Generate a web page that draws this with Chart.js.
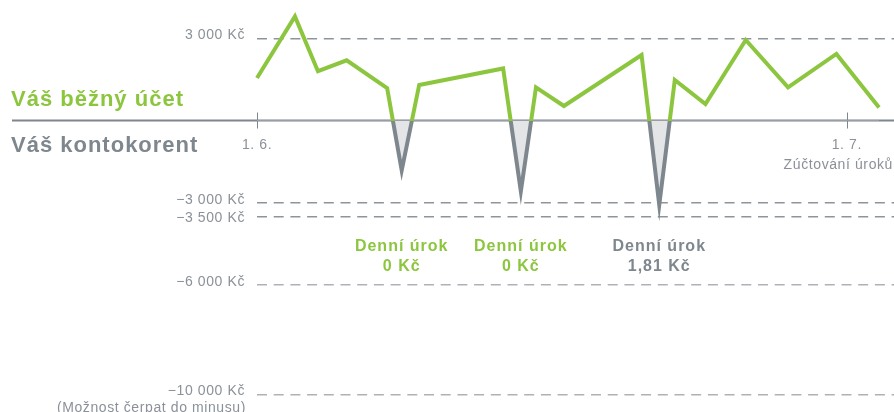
<!DOCTYPE html>
<html lang="cs">
<head>
<meta charset="UTF-8" />
<title>Běžný účet a kontokorent</title>
<script src="https://cdn.jsdelivr.net/npm/chart.js"></script>
<style>
    body {
        margin: 0;
        background: #fff;
        font-family: 'Liberation Sans', Arial, sans-serif;
    }
</style>
</head>
<body>
    <canvas id="graf" width="894" height="412"></canvas>

<script>
    // Dny od 1. 6. a zůstatek v Kč
    const dny = [0, 1.93, 3.1, 4.56, 6.62, 7.36, 8.25, 12.52, 13.42, 14.19, 15.61, 19.56, 20.46, 21.25, 22.81, 24.86, 27.01, 29.47, 31.64];
    const zustatek = [1550, 3800, 1800, 2200, 1180, -1820, 1300, 1900, -2580, 1210, 530, 2390, -3080, 1480, 600, 2940, 1210, 2430, 480];

    const yTicks = [3000, -3000, -3500, -6000, -10000];
    const xTicks = [0, 30];
    const xPopisky = ['1. 6.', '1. 7.'];
    const poznamkaZuctovani = 'Zúčtování úroků';
    const poznamkaLimit = '(Možnost čerpat do minusu)';

    // Denní úrok u jednotlivých propadů
    const urokDny = [7.36, 13.42, 20.46];
    const urokCastky = ['0 Kč', '0 Kč', '1,81 Kč'];
    const urokUctovan = [false, false, true];

    const zelena = '#8cc63f';
    const seda = '#7e868e';
    const sedaText = '#8b9198';
    const sedaVypln = '#e4e5e7';
    const pismo = '"Liberation Sans", Arial, sans-serif';

    function formatKc(v) {
        const s = Math.abs(v).toString().replace(/\B(?=(\d{3})+(?!\d))/g, ' ');
        return (v < 0 ? '\u2212' : '') + s + ' Kč';
    }

    function barvaCary(ctx) {
        const chart = ctx.chart;
        if (!chart.chartArea) return zelena;
        const y0 = chart.scales.y.getPixelForValue(0);
        const g = chart.ctx.createLinearGradient(0, 0, 0, chart.height);
        const stop = Math.min(Math.max(y0 / chart.height, 0), 1);
        g.addColorStop(0, zelena);
        g.addColorStop(stop, zelena);
        g.addColorStop(stop, seda);
        g.addColorStop(1, seda);
        return g;
    }

    const popisky = {
        id: 'popisky',
        beforeDatasetsDraw(chart) {
            const c = chart.ctx;
            const x = chart.scales.x;
            const y0 = chart.scales.y.getPixelForValue(0);
            c.save();
            c.strokeStyle = seda;
            c.lineWidth = 2;
            c.beginPath();
            c.moveTo(12, y0);
            c.lineTo(chart.width, y0);
            c.stroke();
            c.lineWidth = 1;
            xTicks.forEach(t => {
                const px = Math.round(x.getPixelForValue(t)) + 0.5;
                c.beginPath();
                c.moveTo(px, y0 - 8);
                c.lineTo(px, y0 + 8);
                c.stroke();
            });
            c.restore();
        },
        afterDraw(chart) {
            const c = chart.ctx;
            const x = chart.scales.x;
            const y = chart.scales.y;
            const y0 = y.getPixelForValue(0);
            const left = chart.chartArea.left;
            c.save();

            // popisky osy y - trochu nad čarou, ale ne přes sebe
            c.letterSpacing = '0.6px';
            c.font = '14px ' + pismo;
            c.fillStyle = sedaText;
            c.textAlign = 'right';
            c.textBaseline = 'middle';
            let predchozi = -Infinity;
            yTicks.forEach(v => {
                const py = Math.max(y.getPixelForValue(v) - 3, predchozi + 18);
                c.fillText(formatKc(v), left - 12, py);
                predchozi = py;
            });
            c.fillText(poznamkaLimit, left - 11, predchozi + 17);

            c.textBaseline = 'alphabetic';
            c.textAlign = 'left';
            c.letterSpacing = '1px';
            c.font = 'bold 22px ' + pismo;
            c.fillStyle = zelena;
            c.fillText('Váš běžný účet', 11, y0 - 15);
            c.fillStyle = seda;
            c.fillText('Váš kontokorent', 11, y0 + 31);

            // popisky osy x
            c.letterSpacing = '0.6px';
            c.font = '14px ' + pismo;
            c.fillStyle = sedaText;
            c.textBaseline = 'middle';
            c.textAlign = 'center';
            xTicks.forEach((t, i) => {
                c.fillText(xPopisky[i], x.getPixelForValue(t), y0 + 25);
            });
            c.textAlign = 'right';
            c.fillText(poznamkaZuctovani, chart.width - 1, y0 + 45);

            // denní úrok
            c.textAlign = 'center';
            c.letterSpacing = '1px';
            c.font = 'bold 16px ' + pismo;
            urokDny.forEach((d, i) => {
                const px = x.getPixelForValue(d);
                c.fillStyle = urokUctovan[i] ? seda : zelena;
                c.fillText('Denní úrok', px, 247);
                c.fillText(urokCastky[i], px, 267);
            });
            c.restore();
        }
    };

    new Chart(document.getElementById('graf'), {
        type: 'line',
        data: {
            datasets: [{
                data: dny.map((d, i) => ({ x: d, y: zustatek[i] })),
                borderColor: barvaCary,
                borderWidth: 4,
                borderJoinStyle: 'miter',
                borderCapStyle: 'butt',
                pointRadius: 0,
                tension: 0,
                clip: false,
                fill: { target: 'origin', above: 'rgba(0,0,0,0)', below: sedaVypln }
            }]
        },
        options: {
            responsive: false,
            animation: false,
            layout: { padding: 0 },
            plugins: {
                legend: { display: false },
                tooltip: { enabled: false }
            },
            scales: {
                x: {
                    type: 'linear',
                    display: false,
                    min: 0,
                    max: 32.4
                },
                y: {
                    min: -10640,
                    max: 4400,
                    afterBuildTicks: s => { s.ticks = yTicks.map(v => ({ value: v })); },
                    afterFit: s => {
                        s.width = 257;
                        s.paddingTop = 0;
                        s.paddingBottom = 0;
                    },
                    border: { display: false, dash: [10, 6.7] },
                    grid: {
                        drawTicks: false,
                        lineWidth: 1.5,
                        color: c => (c.tick && c.tick.value < -3500) ? '#aeb2b7' : '#8e949b'
                    },
                    ticks: { display: false, autoSkip: false }
                }
            }
        },
        plugins: [popisky]
    });
</script>
</body>
</html>
